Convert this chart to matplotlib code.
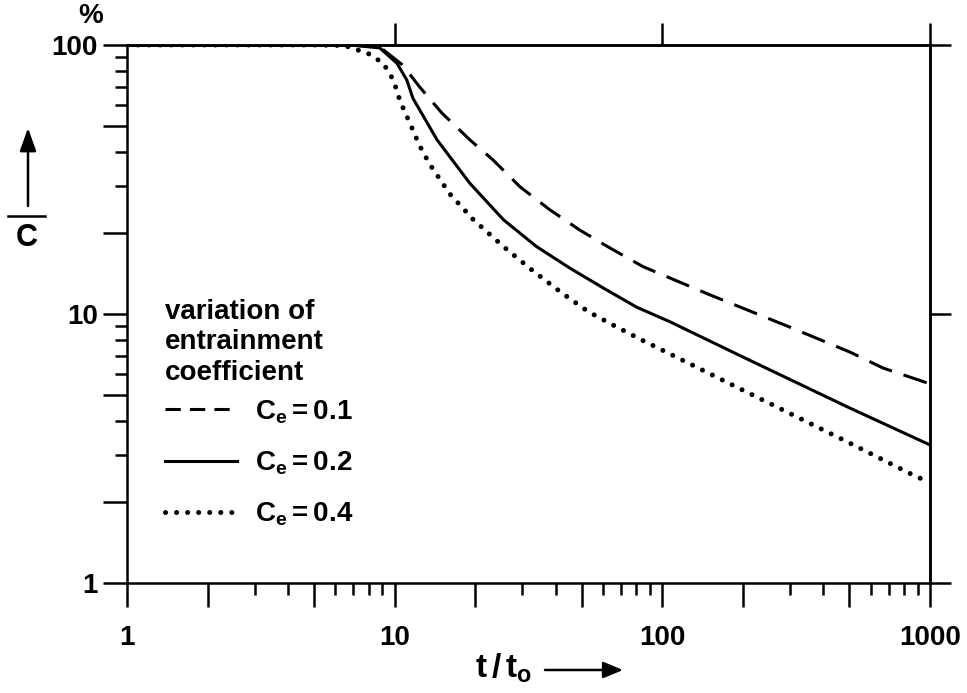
import numpy as np
import matplotlib
matplotlib.use("Agg")
import matplotlib.pyplot as plt
import matplotlib.ticker as ticker
from matplotlib.lines import Line2D

# concentration (%) against dimensionless time, one curve per entrainment coefficient
t_ce01 = [1, 5, 7, 8, 9.07, 10.7, 12.4, 15.0, 19.1, 23.3, 29.4, 38.0, 49.2, 63.7, 84.7,
          150, 300, 502, 667, 1000]
c_ce01 = [100, 100, 99.7, 99, 96, 84.3, 69.8, 55.9, 44.4, 37.4, 29.7, 24.4, 20.5, 17.6, 15.0,
          11.8, 8.93, 7.22, 6.3, 5.5]

t_ce02 = [1, 5, 7, 8.8, 10.2, 11.1, 11.7, 14.4, 19.1, 25.5, 33.9, 45.2, 60.1, 80.2, 106.7,
          200, 502, 1000]
c_ce02 = [100, 100, 99.8, 97.5, 85.5, 74.1, 63.4, 44.4, 30.6, 22.4, 17.8, 14.8, 12.5, 10.6, 9.36,
          6.92, 4.47, 3.26]

t_ce04 = [1, 5, 6.5, 7.96, 9.07, 9.89, 10.5, 11.4, 12.4, 13.5, 16.1, 19.7, 25.5, 32.5, 42.0,
          52.9, 66.5, 82.5, 200, 502, 893, 1000]
c_ce04 = [100, 100, 99.5, 93, 85.5, 74.1, 61.5, 51.2, 42.2, 36.1, 27.9, 22.4, 17.8, 14.6, 12.0,
          10.2, 9.02, 8.07, 5.21, 3.31, 2.48, 2.37]

ce_values = ["0.1", "0.2", "0.4"]

x_major = [1, 2, 5, 10, 20, 50, 100, 200, 500, 1000]
x_minor = [3, 4, 6, 7, 8, 9, 30, 40, 60, 70, 80, 90, 300, 400, 600, 700, 800, 900]
y_major = [1, 2, 5, 10, 20, 50, 100]
y_minor = [3, 4, 6, 7, 8, 9, 30, 40, 60, 70, 80, 90]
labelled = [1, 10, 100, 1000]

plt.rcParams["font.family"] = "Liberation Sans"
plt.rcParams["font.weight"] = "bold"
plt.rcParams["mathtext.fontset"] = "custom"
plt.rcParams["mathtext.rm"] = "Liberation Sans:bold"
plt.rcParams["mathtext.it"] = "Liberation Sans:bold"
plt.rcParams["mathtext.bf"] = "Liberation Sans:bold"

W, H = 967, 693
FS = 20


def px(x, y):
    return (x / W, 1 - y / H)


fig = plt.figure(figsize=(W / 100, H / 100), dpi=100)
ax = fig.add_axes([127 / W, 1 - 583 / H, (930 - 127) / W, (583 - 45) / H])
ax.set_xscale("log")
ax.set_yscale("log")
ax.set_xlim(1, 1000)
ax.set_ylim(1, 100)

lw = 2.2
ax.plot(t_ce01, c_ce01, color="k", lw=lw, dashes=(8, 4))
ax.plot(t_ce02, c_ce02, color="k", lw=lw)
ax.plot(t_ce04, c_ce04, color="k", lw=3.6, linestyle=(0, (0.01, 2.2)),
        dash_capstyle="round")

fmt = ticker.FuncFormatter(lambda v, p: f"{v:g}" if v in labelled else "")
ax.xaxis.set_major_locator(ticker.FixedLocator(x_major))
ax.xaxis.set_minor_locator(ticker.FixedLocator(x_minor))
ax.yaxis.set_major_locator(ticker.FixedLocator(y_major))
ax.yaxis.set_minor_locator(ticker.FixedLocator(y_minor))
ax.xaxis.set_major_formatter(fmt)
ax.yaxis.set_major_formatter(fmt)
ax.xaxis.set_minor_formatter(ticker.NullFormatter())
ax.yaxis.set_minor_formatter(ticker.NullFormatter())

ax.tick_params(which="major", direction="out", length=17, width=1.8, labelsize=FS)
ax.tick_params(which="minor", direction="out", length=8.5, width=1.8)
ax.tick_params(axis="x", pad=13)
ax.tick_params(axis="y", pad=4)
for s in ax.spines.values():
    s.set_linewidth(1.8)

top = ax.secondary_xaxis("top")
top.set_xticks([10, 100, 1000], labels=["", "", ""])
top.xaxis.set_minor_locator(ticker.NullLocator())
top.tick_params(direction="out", length=16, width=1.8)
top.spines["top"].set_linewidth(1.8)

right = ax.secondary_yaxis("right")
right.set_yticks([1, 10, 100], labels=["", "", ""])
right.yaxis.set_minor_locator(ticker.NullLocator())
right.tick_params(direction="out", length=15, width=1.8)
right.spines["right"].set_linewidth(1.8)

# legend heading and entries
ax.text(0.047, (583 - 299) / 538, "variation of\nentrainment\ncoefficient",
        transform=ax.transAxes, ha="left", va="top", fontsize=FS, linespacing=1.22)

handles = [
    Line2D([], [], color="k", lw=lw, dashes=(5, 3)),
    Line2D([], [], color="k", lw=lw),
    Line2D([], [], color="k", lw=3.6, linestyle=(0, (0.01, 2.2)), dash_capstyle="round"),
]
labels = [rf"$\mathrm{{C_e = {v}}}$" for v in ce_values]
ax.legend(handles, labels, loc="upper left", bbox_to_anchor=(0.047, (583 - 398) / 538),
          frameon=False, fontsize=FS, handlelength=2.6, handletextpad=0.65,
          labelspacing=0.86, borderpad=0, borderaxespad=0)

# axis labels with arrows
fig.text(*px(91, 16), "%", ha="center", va="center", fontsize=FS)
fig.text(*px(27, 238), "C", ha="center", va="center", fontsize=22)
fig.add_artist(Line2D([8 / W, 45 / W], [1 - 216 / H] * 2, transform=fig.transFigure,
                      color="k", lw=1.8))
ax.annotate("", xy=px(28, 128), xytext=px(28, 206), xycoords="figure fraction",
            arrowprops=dict(arrowstyle="-|>,head_length=0.7,head_width=0.25",
                            mutation_scale=20, color="k", lw=1.8, shrinkA=0, shrinkB=0))

fig.text(*px(475, 678), r"$\mathrm{t\,/\,t_o}$", ha="left", va="baseline", fontsize=24)
ax.annotate("", xy=px(623, 670), xytext=px(545, 670), xycoords="figure fraction",
            arrowprops=dict(arrowstyle="-|>,head_length=0.6,head_width=0.25",
                            mutation_scale=20, color="k", lw=1.8, shrinkA=0, shrinkB=0))

fig.savefig("out.png", dpi=100)
